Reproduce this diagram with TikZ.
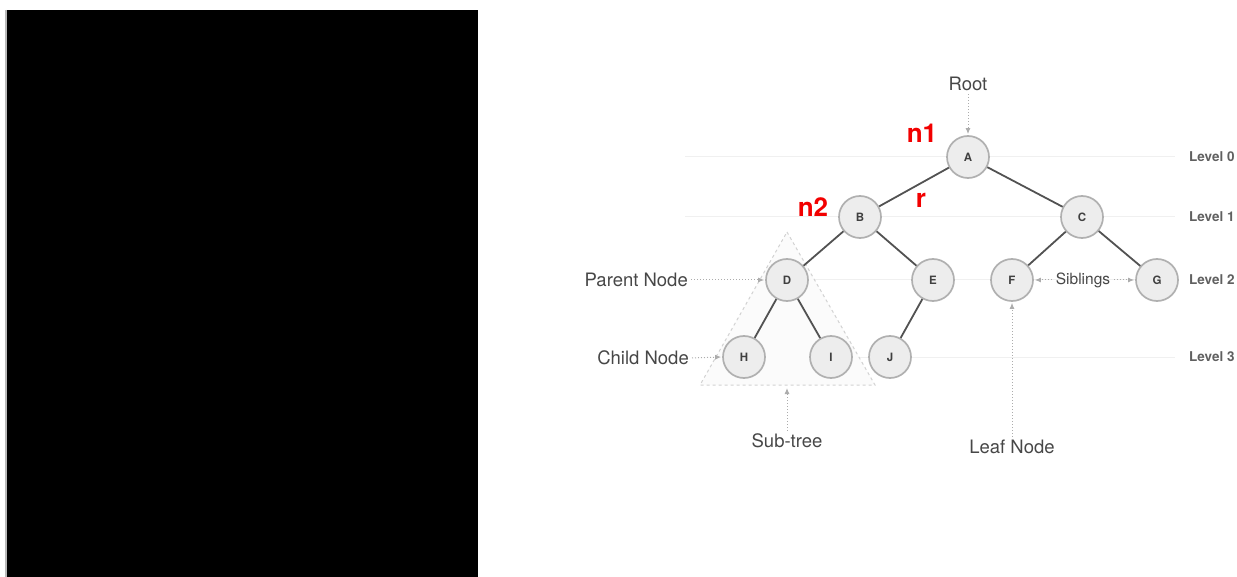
\documentclass[tikz,border=0pt]{standalone}
\usepackage{fontspec}
\setmainfont{TeX Gyre Heros}
\usetikzlibrary{arrows.meta}
\begin{document}
\begin{tikzpicture}[x=1pt,y=-1pt,
  tnode/.style={circle, draw=gray!62, line width=1.7pt, fill=gray!14,
    minimum size=42pt, inner sep=0pt,
    font=\fontsize{11.5}{11.5}\selectfont\bfseries, text=black!75},
  treeedge/.style={draw=black!68, line width=1.8pt},
  levelline/.style={draw=gray!12, line width=1pt},
  levtext/.style={font=\fontsize{13.5}{14}\selectfont\bfseries,
    text=gray!75!black, anchor=west, inner sep=0pt},
  callout/.style={font=\fontsize{18.5}{20}\selectfont, text=black!72, inner sep=1pt},
  hint/.style={draw=gray!65, dotted, line width=1pt,
    -{Latex[length=6pt,width=5pt]}, shorten >=1pt, shorten <=2pt},
  redtag/.style={font=\fontsize{26}{26}\selectfont\bfseries, text=red!95!black}
]
\useasboundingbox (0,0) rectangle (1237,577);

% dark panel on the left
\fill[black] (7,10) rectangle (478,577);
\draw[gray!55, line width=1.5pt] (6,10) -- (6,577);

% level guide lines
\draw[levelline] (685,157) -- (1175,157);
\draw[levelline] (685,217) -- (1175,217);
\draw[levelline] (787,280) -- (1175,280);
\draw[levelline] (744,357) -- (1175,357);

% sub-tree outline
\coordinate (tTop) at (787,232);
\coordinate (tRight) at (875,385);
\coordinate (tLeft) at (700,385);
\draw[gray!35, dashed, line width=1pt, fill=gray!3] (tTop) -- (tRight) -- (tLeft) -- cycle;

% tree nodes
\node[tnode] (A) at (968,157) {A};
\node[tnode] (B) at (860,217) {B};
\node[tnode] (C) at (1082,217) {C};
\node[tnode] (D) at (787,280) {D};
\node[tnode] (E) at (933,280) {E};
\node[tnode] (F) at (1012,280) {F};
\node[tnode] (G) at (1157,280) {G};
\node[tnode] (H) at (744,357) {H};
\node[tnode] (I) at (831,357) {I};
\node[tnode] (J) at (890,357) {J};

% tree edges
\draw[treeedge] (A) -- (B);
\draw[treeedge] (A) -- (C);
\draw[treeedge] (B) -- (D);
\draw[treeedge] (B) -- (E);
\draw[treeedge] (C) -- (F);
\draw[treeedge] (C) -- (G);
\draw[treeedge] (D) -- (H);
\draw[treeedge] (D) -- (I);
\draw[treeedge] (E) -- (J);

% level labels
\node[levtext] (l0) at (1189,157) {Level 0};
\node[levtext] (l1) at (1189,217) {Level 1};
\node[levtext] (l2) at (1189,280) {Level 2};
\node[levtext] (l3) at (1189,357) {Level 3};

% callouts
\node[callout] (root) at (968,84) {Root};
\draw[hint] (root.south) -- (A.north);

\node[callout, anchor=east] (parent) at (689,280) {Parent Node};
\draw[hint] (parent.east) -- (D.west);

\node[callout, anchor=east] (child) at (690,358) {Child Node};
\draw[hint] (child.east) -- (H.west);

\node[callout] (subtree) at (787,441) {Sub-tree};
\coordinate (tBase) at (787,387);
\draw[hint] (subtree.north) -- (tBase);

\node[callout] (leaf) at (1012,447) {Leaf Node};
\draw[hint] (leaf.north) -- (F.south);

\node[font=\fontsize{15.5}{16}\selectfont, text=black!72, inner sep=2pt] (sib) at (1083,280) {Siblings};
\draw[hint] (sib.west) -- (F.east);
\draw[hint] (sib.east) -- (G.west);

% red annotations
\node[redtag] (n1) at (922,133) {n1};
\node[redtag] (n2) at (813,207) {n2};
\node[redtag] (r) at (921,200) {r};
\end{tikzpicture}
\end{document}
